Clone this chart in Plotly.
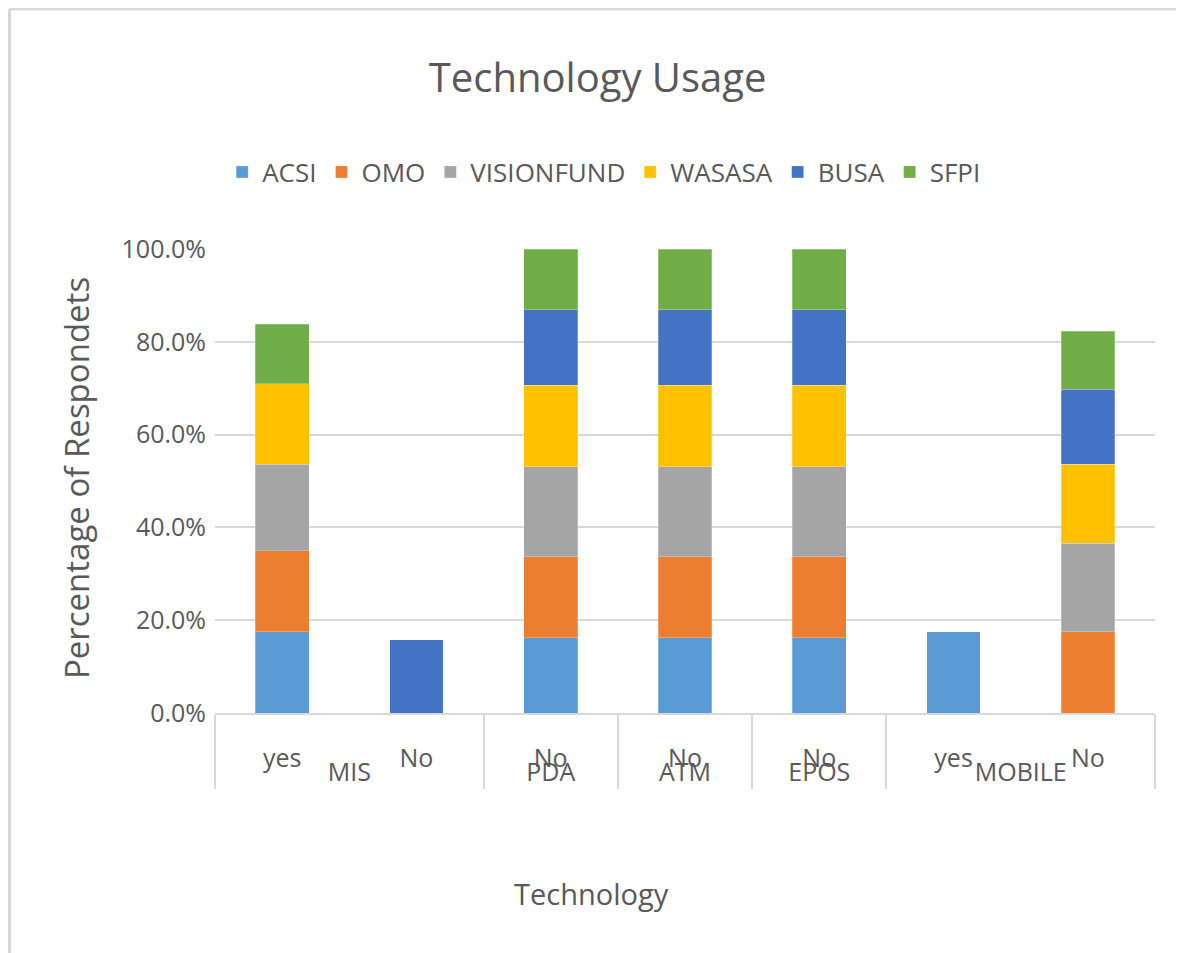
import plotly.graph_objects as go

technologies = ["MIS", "MIS", "PDA", "ATM", "EPOS", "MOBILE", "MOBILE"]
responses = ["yes", "No", "No", "No", "No", "yes", "No"]

series_names = ["ACSI", "OMO", "VISIONFUND", "WASASA", "BUSA", "SFPI"]
acsi = [0.175, None, 0.162, 0.162, 0.162, 0.175, None]
omo = [0.175, None, 0.175, 0.175, 0.175, None, 0.175]
visionfund = [0.186, None, 0.194, 0.194, 0.194, None, 0.191]
wasasa = [0.174, None, 0.175, 0.175, 0.175, None, 0.170]
busa = [None, 0.158, 0.163, 0.163, 0.163, None, 0.162]
sfpi = [0.128, None, 0.131, 0.131, 0.131, None, 0.125]

colors = ["#5B9BD5", "#ED7D31", "#A5A5A5", "#FFC000", "#4472C4", "#70AD47"]
values = [acsi, omo, visionfund, wasasa, busa, sfpi]

fig = go.Figure()
for name, vals, col in zip(series_names, values, colors):
    fig.add_trace(go.Bar(
        x=[technologies, responses], y=vals, name=name,
        marker=dict(color=col, line=dict(color="rgba(255,255,255,0.5)", width=0.5)),
    ))

font_main = "Open Sans, sans-serif"
grey_txt = "#595959"
fig.update_layout(
    barmode="stack",
    bargap=0.6,
    width=1184, height=953,
    paper_bgcolor="white", plot_bgcolor="white",
    margin=dict(l=207, r=37, t=241, b=248),
    title=dict(text="Technology Usage", x=0.498, xanchor="center", y=0.9265, yanchor="middle",
               font=dict(family=font_main, size=40, color=grey_txt)),
    legend=dict(orientation="h", x=0.414, xanchor="center", y=1.166, yanchor="middle",
                font=dict(family=font_main, size=26, color=grey_txt),
                itemwidth=30, traceorder="normal"),
    font=dict(family=font_main, color=grey_txt),
    shapes=[
        dict(type="line", xref="paper", yref="paper", x0=-0.2186, x1=-0.2186, y0=-0.55, y1=1.517,
             line=dict(color="#D9D9D9", width=3)),
        dict(type="line", xref="paper", yref="paper", x0=-0.2186, x1=1.06, y0=1.517, y1=1.517,
             line=dict(color="#D9D9D9", width=3)),
    ],
    annotations=[
        dict(text="Technology", xref="paper", yref="paper", x=0.401, y=-0.388,
             xanchor="center", yanchor="middle", showarrow=False,
             font=dict(family=font_main, size=29, color=grey_txt)),
        dict(text="Percentage of Respondets", xref="paper", yref="paper", x=-0.148, y=0.506,
             xanchor="center", yanchor="middle", showarrow=False, textangle=-90,
             font=dict(family=font_main, size=33, color=grey_txt)),
    ],
)
fig.update_yaxes(
    range=[0, 1], tickformat=".1%", dtick=0.2,
    showgrid=True, gridcolor="#D9D9D9", gridwidth=1.5,
    zeroline=False, showline=False, ticklabelstandoff=8,
    tickfont=dict(family=font_main, size=25, color=grey_txt),
)
fig.update_xaxes(
    showline=True, linecolor="#D9D9D9", linewidth=1.5,
    showdividers=True, dividercolor="#D9D9D9", dividerwidth=1.5,
    ticklabelstandoff=22,
    tickfont=dict(family=font_main, size=25, color=grey_txt),
)
fig.write_html("out.html")
